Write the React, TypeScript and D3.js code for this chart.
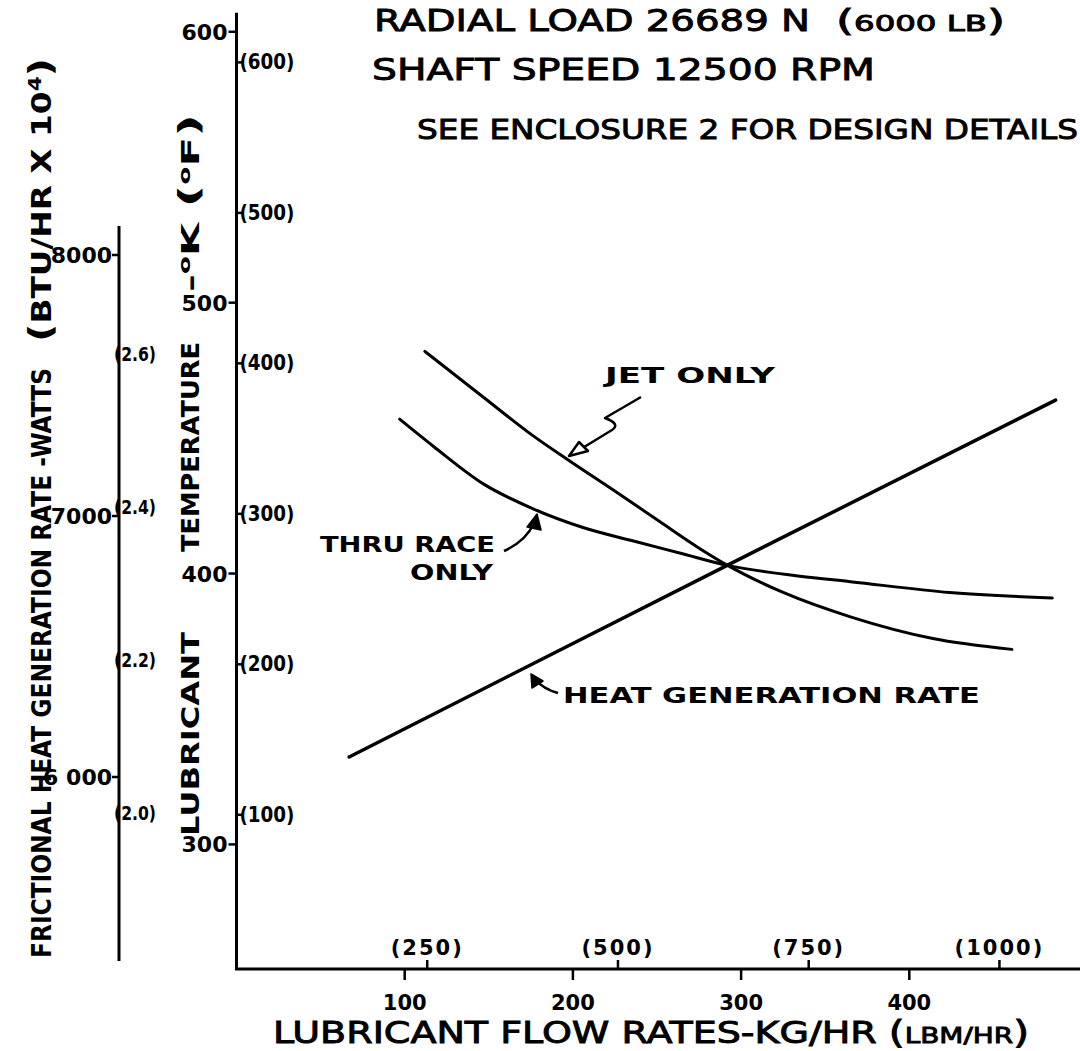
import React from "react";
import * as d3 from "d3";

// ---------- data ----------
const kgTicks = [100, 200, 300, 400];
const lbmTicks = [250, 500, 750, 1000];
const lbmLabels = ["(250)", "(500)", "(750)", "(1000)"];
const kelvinTicks = [300, 400, 500, 600];
const fahrenheitTicks = [100, 200, 300, 400, 500, 600];
const fahrenheitLabels = ["(100)", "(200)", "(300)", "(400)", "(500)", "(600)"];
const wattTicks = [6000, 7000, 8000];
const wattLabels = ["6 000", "7000", "8000"];
const btuTicks = [2.0, 2.2, 2.4, 2.6];
const btuLabels = ["(2.0)", "(2.2)", "(2.4)", "(2.6)"];

const jetFlow = [112, 147, 176, 197, 226, 252, 276, 292, 325, 365, 414, 461];
const jetTemp = [482, 465, 451, 442, 430, 419, 409, 403, 393, 384, 376, 372];
const thruFlow = [97, 117, 147, 176, 206, 236, 264, 292, 335, 365, 424, 485];
const thruTemp = [457, 447, 433, 424, 417, 412, 407.5, 403, 399, 397, 393, 391];
const heatFlow = [67, 292, 487];
const heatWatts = [6077, 6812, 7444];

const flowDomain = [0, 500];
const tempAxisRange = [254, 607];
const wattAxisRange = [5295, 8111];

const FONT = "'DejaVu Sans', 'Open Sans', sans-serif";

const fToK = (f: number) => ((f + 459.67) * 5) / 9;
const btuToW = (b: number) => (b * 1e4) / 3.41214;
const lbmToKg = (l: number) => l * 0.45359;

export default function App() {
  const x = d3.scaleLinear().domain(flowDomain).range([236.5, 1077.5]);
  const yK = d3.scaleLinear().domain([300, 600]).range([844.4, 31.8]);
  const yW = d3.scaleLinear().domain([6000, 8000]).range([777, 255]);

  const kAxisX = x(0);
  const wAxisX = 119;
  const xAxisY = yK(tempAxisRange[0]);

  const line = d3
    .line<[number, number]>()
    .x((d) => d[0])
    .y((d) => d[1])
    .curve(d3.curveMonotoneX);

  const jetPts: [number, number][] = jetFlow.map((f, i) => [x(f), yK(jetTemp[i])]);
  const thruPts: [number, number][] = thruFlow.map((f, i) => [x(f), yK(thruTemp[i])]);
  const heatPts: [number, number][] = heatFlow.map((f, i) => [x(f), yW(heatWatts[i])]);

  const stroke = "#000";
  const lw = 3;
  const titleStyle = { fontWeight: "normal" as const, stroke: "#000", strokeWidth: 0.9 };

  return (
    <svg
      width={1080}
      height={1051}
      style={{ position: "absolute", left: 0, top: 0, background: "#fff" }}
      fontFamily={FONT}
      fontWeight="bold"
    >
      <rect x={0} y={0} width={1080} height={1051} fill="#fff" />

      {/* titles */}
      <text x={374} y={31} fontSize={31} textLength={436} lengthAdjust="spacingAndGlyphs" style={titleStyle}>
        RADIAL LOAD 26689 N
      </text>
      <text x={836} y={31} fontSize={30} textLength={169} lengthAdjust="spacingAndGlyphs" style={titleStyle}>
        <tspan fontSize={30}>(</tspan>
        <tspan fontSize={21}>6000 LB</tspan>
        <tspan fontSize={30}>)</tspan>
      </text>
      <text x={372} y={80} fontSize={31} textLength={503} lengthAdjust="spacingAndGlyphs" style={titleStyle}>
        SHAFT SPEED 12500 RPM
      </text>
      <text x={417} y={139} fontSize={27} textLength={661} lengthAdjust="spacingAndGlyphs" style={titleStyle}>
        SEE ENCLOSURE 2 FOR DESIGN DETAILS
      </text>

      {/* left rotated labels */}
      <text
        transform="translate(51,958) rotate(-90)"
        fontSize={26}
        textLength={590}
        lengthAdjust="spacingAndGlyphs"
      >
        FRICTIONAL HEAT GENERATION RATE -WATTS
      </text>
      <text
        transform="translate(51,342) rotate(-90)"
        fontSize={26}
        textLength={284}
        lengthAdjust="spacingAndGlyphs"
      >
        <tspan fontSize={32}>(</tspan>BTU/HR X 10<tspan dy={-10} fontSize={17}>4</tspan>
        <tspan dy={10} fontSize={32}>)</tspan>
      </text>
      <text
        transform="translate(199,836) rotate(-90)"
        fontSize={25}
        textLength={204}
        lengthAdjust="spacingAndGlyphs"
      >
        LUBRICANT
      </text>
      <text
        transform="translate(199,552) rotate(-90)"
        fontSize={25}
        textLength={210}
        lengthAdjust="spacingAndGlyphs"
      >
        TEMPERATURE
      </text>
      <text
        transform="translate(199,292) rotate(-90)"
        fontSize={25}
        textLength={178}
        lengthAdjust="spacingAndGlyphs"
      >
        -<tspan dy={-9} fontSize={15}>o</tspan>
        <tspan dy={9}>K </tspan>
        <tspan fontSize={29}>(</tspan>
        <tspan dy={-9} fontSize={15}>o</tspan>
        <tspan dy={9}>F</tspan>
        <tspan fontSize={29}>)</tspan>
      </text>

      {/* Kelvin / Fahrenheit axis */}
      <line x1={kAxisX} x2={kAxisX} y1={yK(tempAxisRange[1])} y2={xAxisY} stroke={stroke} strokeWidth={lw} />
      {kelvinTicks.map((k) => (
        <g key={"k" + k}>
          <line x1={kAxisX - 8} x2={kAxisX} y1={yK(k)} y2={yK(k)} stroke={stroke} strokeWidth={2.5} />
          <text x={kAxisX - 9} y={yK(k) + 8} fontSize={22} textAnchor="end">
            {k}
          </text>
        </g>
      ))}
      {fahrenheitTicks.map((f, i) => (
        <g key={"f" + f}>
          <line x1={kAxisX} x2={kAxisX + 6} y1={yK(fToK(f))} y2={yK(fToK(f))} stroke={stroke} strokeWidth={2.5} />
          <text x={kAxisX + 3} y={yK(fToK(f)) + 7} fontSize={21} textLength={55} lengthAdjust="spacingAndGlyphs">
            {fahrenheitLabels[i]}
          </text>
        </g>
      ))}

      {/* Watts / BTU axis */}
      <line x1={wAxisX} x2={wAxisX} y1={yW(wattAxisRange[1])} y2={yW(wattAxisRange[0])} stroke={stroke} strokeWidth={lw} />
      {wattTicks.map((w, i) => (
        <g key={"w" + w}>
          <line x1={wAxisX - 7} x2={wAxisX} y1={yW(w)} y2={yW(w)} stroke={stroke} strokeWidth={2.5} />
          <text x={wAxisX - 7} y={yW(w) + 8} fontSize={22} textAnchor="end">
            {wattLabels[i]}
          </text>
        </g>
      ))}
      {btuTicks.map((b, i) => (
        <g key={"b" + b}>
          <text x={wAxisX - 5} y={yW(btuToW(b)) + 7} fontSize={20} textLength={42} lengthAdjust="spacingAndGlyphs">
            {btuLabels[i]}
          </text>
        </g>
      ))}

      {/* X axis */}
      <line x1={kAxisX - 1.5} x2={1080} y1={xAxisY} y2={xAxisY} stroke={stroke} strokeWidth={lw} />
      {kgTicks.map((k) => (
        <g key={"kg" + k}>
          <line x1={x(k)} x2={x(k)} y1={xAxisY} y2={xAxisY + 11} stroke={stroke} strokeWidth={2.5} />
          <text x={x(k)} y={xAxisY + 41} fontSize={21} textAnchor="middle">
            {k}
          </text>
        </g>
      ))}
      {lbmTicks.map((l, i) => (
        <g key={"lb" + l}>
          <line x1={x(lbmToKg(l))} x2={x(lbmToKg(l))} y1={xAxisY - 9} y2={xAxisY} stroke={stroke} strokeWidth={2.5} />
          <text x={x(lbmToKg(l))} y={xAxisY - 14} fontSize={21} letterSpacing={2} textAnchor="middle">
            {lbmLabels[i]}
          </text>
        </g>
      ))}
      <text x={273} y={1043} fontSize={30} textLength={756} lengthAdjust="spacingAndGlyphs" style={titleStyle}>
        LUBRICANT FLOW RATES-KG/HR <tspan fontSize={32}>(</tspan>
        <tspan fontSize={22}>LBM/HR</tspan>
        <tspan fontSize={32}>)</tspan>
      </text>

      {/* curves */}
      <path d={line(jetPts) || ""} fill="none" stroke={stroke} strokeWidth={lw} strokeLinecap="round" />
      <path d={line(thruPts) || ""} fill="none" stroke={stroke} strokeWidth={lw} strokeLinecap="round" />
      <path d={line(heatPts) || ""} fill="none" stroke={stroke} strokeWidth={lw + 0.5} strokeLinecap="round" />

      {/* annotations */}
      <text x={605} y={383} fontSize={22} textLength={170} lengthAdjust="spacingAndGlyphs">
        JET ONLY
      </text>
      <path
        d="M641,397 L605,418 Q621,424 612,430 L576,452"
        fill="none"
        stroke={stroke}
        strokeWidth={2.5}
        strokeLinejoin="round"
      />
      <path d="M569,456 L579,442 L588,451 Z" fill="#fff" stroke={stroke} strokeWidth={2.5} strokeLinejoin="round" />

      <text x={320} y={552} fontSize={22} textLength={175} lengthAdjust="spacingAndGlyphs">
        THRU RACE
      </text>
      <text x={410} y={580} fontSize={22} textLength={83} lengthAdjust="spacingAndGlyphs">
        ONLY
      </text>
      <path d="M504,551 Q526,541 534,523" fill="none" stroke={stroke} strokeWidth={2.5} />
      <path d="M537,514 L527,527 L541,530 Z" fill={stroke} stroke={stroke} strokeWidth={1.5} strokeLinejoin="round" />

      <path d="M558,693 Q543,689 535,679" fill="none" stroke={stroke} strokeWidth={2.5} />
      <path d="M531,674 L532,688 L543,681 Z" fill={stroke} stroke={stroke} strokeWidth={1.5} strokeLinejoin="round" />
      <text x={563} y={703} fontSize={22} textLength={417} lengthAdjust="spacingAndGlyphs">
        HEAT GENERATION RATE
      </text>
    </svg>
  );
}
